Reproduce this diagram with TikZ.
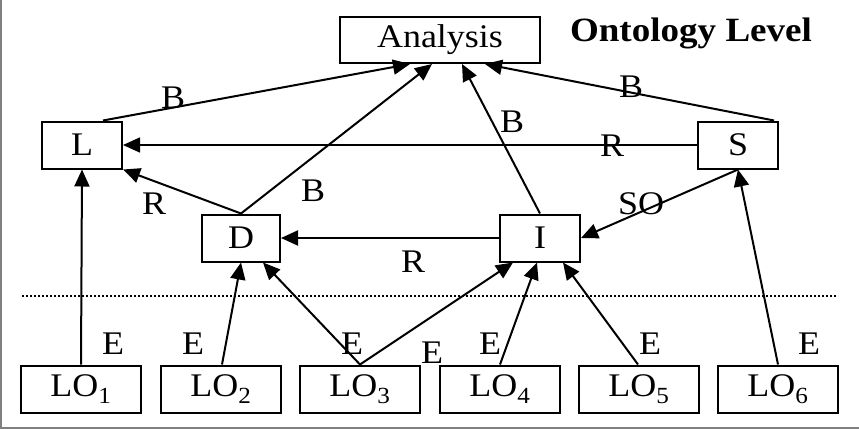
\documentclass[tikz,border=0pt]{standalone}
\usepackage{fontspec}
\setmainfont[FakeStretch=1.09]{Liberation Serif}
\usepackage{tikz}
\usetikzlibrary{arrows.meta, positioning, calc}
\tikzset{
	concept/.style ={rectangle, draw=black, line width=2pt, minimum width=80pt, minimum height=47pt, inner sep=0pt, text centered},
	lobox/.style   ={rectangle, draw=black, line width=2pt, minimum width=120pt, minimum height=47pt, inner sep=0pt, text centered},
	rel/.style     ={-{Triangle[length=17pt, width=15pt]}, line width=2pt},
	lbl/.style     ={inner sep=0pt, text centered},
}
\begin{document}
\begin{tikzpicture}[x=1pt, y=-1pt, font=\fontsize{33}{38}\selectfont]
	\useasboundingbox (0,0) rectangle (859,429);
	\draw[gray, line width=1.5pt] (1,0) -- (1,428) -- (859,428);
	% ontology level
	\node[concept, minimum width=200pt, minimum height=46pt] (analysis) at (440,40) {Analysis};
	\node[lbl, font=\fontsize{34}{38}\selectfont\bfseries] (title) at (691,33) {Ontology Level};
	\node[concept] (L) at (82,145) {L};
	\node[concept] (S) at (738,145) {S};
	\node[concept, minimum width=78pt] (D) at (241,238) {D};
	\node[concept] (I) at (540,238) {I};
	\draw[line width=2pt, dotted] (22,296) -- (837,296);
	% learning objects
	\foreach \i/\x in {1/81, 2/221, 3/360, 4/500, 5/639, 6/778}
		\node[lobox] (lo\i) at (\x,389) {LO\textsubscript{\i}};
	% links
	\draw[rel] ([xshift=21pt]L.north) -- ([xshift=-30pt]analysis.south);
	\draw[rel] (D.north) -- ([xshift=-8pt]analysis.south);
	\draw[rel] (I.north) -- ([xshift=22pt]analysis.south);
	\draw[rel] ([xshift=-5pt]S.north east) -- ([xshift=45pt]analysis.south);
	\draw[rel, line width=1.6pt] (S.west) -- (L.east);
	\draw[rel] (D.north) -- (L.south east);
	\draw[rel] (I.west) -- (D.east);
	\draw[rel] (S.south) -- (I.east);
	\draw[rel] (lo1.north) -- (L.south);
	\draw[rel] ([xshift=1pt]lo2.north) -- (D.south);
	\draw[rel] (lo3.north) -- ([xshift=22pt]D.south);
	\draw[rel] (lo3.north) -- ([xshift=-27pt]I.south);
	\draw[rel] (lo4.north) -- ([xshift=-3pt]I.south);
	\draw[rel] ([xshift=-1pt]lo5.north) -- ([xshift=23pt]I.south);
	\draw[rel] (lo6.north) -- (S.south);
	% labels
	\node[lbl] (bL) at (173,98) {B};
	\node[lbl] (bD) at (313,191) {B};
	\node[lbl] (rD) at (154,204) {R};
	\node[lbl] (bI) at (512,122) {B};
	\node[lbl] (bS) at (631,87) {B};
	\node[lbl] (rS) at (612,146) {R};
	\node[lbl] (so) at (641,204) {SO};
	\node[lbl] (rI) at (413,262) {R};
	\node[lbl] (e1) at (113,344) {E};
	\node[lbl] (e2) at (193,344) {E};
	\node[lbl] (e3) at (352,344) {E};
	\node[lbl] (e3b) at (432,353) {E};
	\node[lbl] (e4) at (490,344) {E};
	\node[lbl] (e5) at (650,344) {E};
	\node[lbl] (e6) at (809,344) {E};
\end{tikzpicture}
\end{document}
